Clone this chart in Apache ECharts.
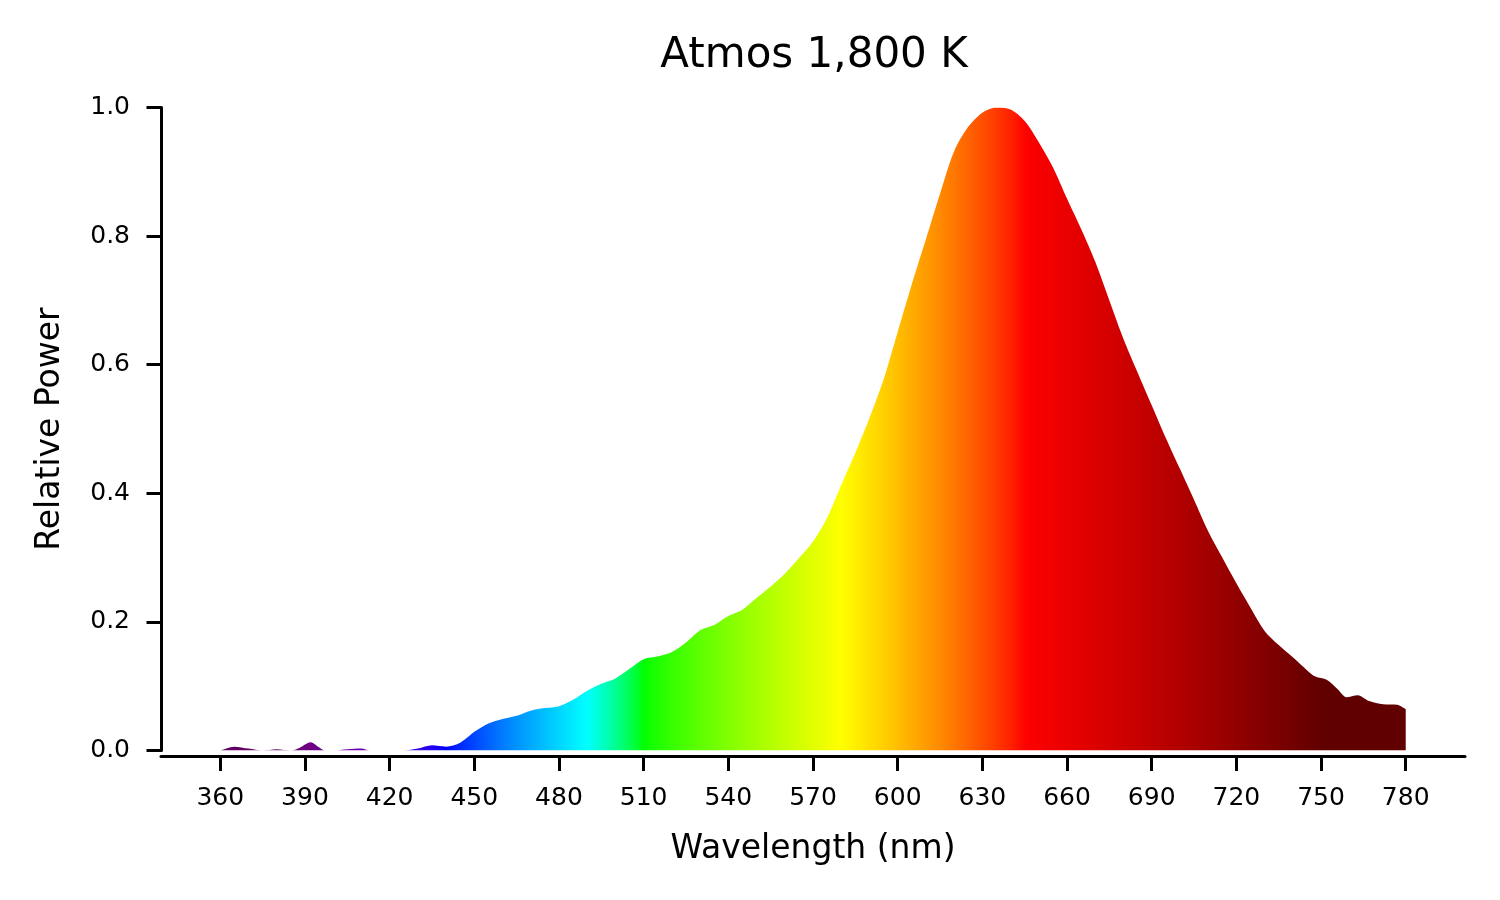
<!DOCTYPE html>
<html>
<head>
<meta charset="utf-8">
<script src="https://cdn.jsdelivr.net/npm/echarts@6/dist/echarts.min.js"></script>
<style>
  html, body { margin: 0; padding: 0; background: #fff; }
  #chart { width: 1500px; height: 900px; }
</style>
</head>
<body>
<div id="chart"></div>
<script>
// spectrum (mostly 5 nm steps, a few extra points at the bumps)
const wavelengths = [
  360, 365, 370, 375, 380, 385, 388, 392, 395, 397,
  400, 405, 410, 413, 420, 425, 430, 435, 440, 445,
  450, 455, 460, 465, 470, 475, 480, 485, 490, 495,
  500, 505, 510, 515, 520, 525, 530, 535, 540, 545,
  550, 555, 560, 565, 570, 575, 580, 585, 590, 595,
  600, 605, 610, 615, 620, 625, 630, 635, 640, 645,
  650, 655, 660, 665, 670, 675, 680, 685, 690, 695,
  700, 705, 710, 715, 720, 725, 730, 735, 740, 745,
  748, 752, 756, 759, 763, 767, 772, 777, 780
];
const relativePower = [
  0.000, 0.006, 0.003, 0.000, 0.002, 0.000, 0.004, 0.013, 0.005, 0.000,
  0.000, 0.002, 0.003, 0.000, 0.000, 0.000, 0.003, 0.008, 0.006, 0.012,
  0.029, 0.042, 0.049, 0.054, 0.062, 0.066, 0.069, 0.079, 0.093, 0.104,
  0.112, 0.127, 0.142, 0.146, 0.153, 0.168, 0.187, 0.195, 0.209, 0.219,
  0.237, 0.255, 0.275, 0.299, 0.325, 0.362, 0.413, 0.463, 0.517, 0.577,
  0.651, 0.725, 0.795, 0.866, 0.932, 0.970, 0.992, 1.000, 0.997, 0.979,
  0.946, 0.907, 0.858, 0.811, 0.760, 0.700, 0.640, 0.588, 0.537, 0.486,
  0.438, 0.390, 0.341, 0.300, 0.260, 0.222, 0.186, 0.164, 0.145, 0.125,
  0.115, 0.110, 0.095, 0.083, 0.086, 0.077, 0.072, 0.071, 0.064
];
const xTicks = [360, 390, 420, 450, 480, 510, 540, 570, 600, 630, 660, 690, 720, 750, 780];
const chartTitle = 'Atmos 1,800 K';

// approximate visible colour for a wavelength (gamma 0.8)
function wavelengthToRgb(w) {
  var gamma = 0.8;
  w = Math.min(Math.max(w, 380), 750);
  var r = 0, g = 0, b = 0, att;
  if (w <= 440) {
    att = 0.3 + 0.7 * (w - 380) / 60;
    r = Math.pow((440 - w) / 60 * att, gamma);
    b = Math.pow(att, gamma);
  } else if (w <= 490) {
    g = Math.pow((w - 440) / 50, gamma);
    b = 1;
  } else if (w <= 510) {
    g = 1;
    b = Math.pow((510 - w) / 20, gamma);
  } else if (w <= 580) {
    r = Math.pow((w - 510) / 70, gamma);
    g = 1;
  } else if (w <= 645) {
    r = 1;
    g = Math.pow((645 - w) / 65, gamma);
  } else {
    att = 0.3 + 0.7 * (750 - w) / 105;
    r = Math.pow(att, gamma);
  }
  return 'rgb(' + Math.round(r * 255) + ',' + Math.round(g * 255) + ',' + Math.round(b * 255) + ')';
}

var wMin = wavelengths[0];
var wMax = wavelengths[wavelengths.length - 1];
var stops = [];
for (var w = wMin; w <= wMax; w += 2) {
  stops.push({ offset: (w - wMin) / (wMax - wMin), color: wavelengthToRgb(w) });
}

var font = 'DejaVu Sans';
var myChart = echarts.init(document.getElementById('chart'));
myChart.setOption({
  animation: false,
  backgroundColor: '#fff',
  title: {
    text: chartTitle,
    left: 809,
    top: 30,
    textAlign: 'center',
    textStyle: { fontFamily: font, fontSize: 42, fontWeight: 'normal', color: '#000' }
  },
  grid: {
    left: 161,
    right: 35,
    top: 107.5,
    bottom: 149.5,
    outerBoundsMode: 'none'
  },
  xAxis: {
    type: 'value',
    min: 339,
    max: 801,
    offset: 6,
    name: 'Wavelength (nm)',
    nameLocation: 'middle',
    nameGap: 76,
    nameTextStyle: { fontFamily: font, fontSize: 33, color: '#000' },
    axisLine: { show: true, onZero: false, lineStyle: { color: '#000', width: 3 } },
    axisTick: { show: true, length: 14.5, lineStyle: { color: '#000', width: 3 }, customValues: xTicks },
    axisLabel: { margin: 29, fontFamily: font, fontSize: 25, color: '#000', customValues: xTicks },
    splitLine: { show: false }
  },
  yAxis: {
    type: 'value',
    min: 0,
    max: 1,
    interval: 0.2,
    name: 'Relative Power',
    nameLocation: 'middle',
    nameGap: 94,
    nameTextStyle: { fontFamily: font, fontSize: 33, color: '#000' },
    axisLine: { show: true, onZero: false, lineStyle: { color: '#000', width: 3 } },
    axisTick: { show: true, length: 14.5, lineStyle: { color: '#000', width: 3 } },
    axisLabel: {
      margin: 31,
      fontFamily: font,
      fontSize: 25,
      color: '#000',
      formatter: function (v) { return v.toFixed(1); }
    },
    splitLine: { show: false }
  },
  series: [
    {
      type: 'line',
      data: wavelengths.map(function (w, i) { return [w, relativePower[i]]; }),
      smooth: 0.3,
      showSymbol: false,
      lineStyle: { width: 0 },
      areaStyle: {
        opacity: 1,
        color: new echarts.graphic.LinearGradient(0, 0, 1, 0, stops)
      },
      clip: true
    }
  ]
});
</script>
</body>
</html>
